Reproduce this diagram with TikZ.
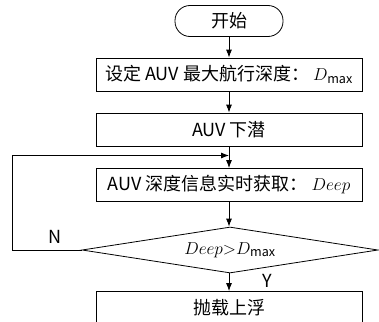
\documentclass[tikz,border=0pt]{standalone}
\usepackage{fontspec}
\setmainfont{Noto Sans CJK SC}
\usepackage{amsmath}
\usetikzlibrary{shapes.geometric,arrows.meta}

\begin{document}
\begin{tikzpicture}[x=1pt,y=-1pt,font=\fontsize{18}{21}\selectfont,line width=0.8pt]
      \tikzstyle{term node}=[draw,rounded corners=15pt,minimum width=108pt,minimum height=31pt,inner sep=1pt]
      \tikzstyle{box node}=[draw,minimum width=266pt,minimum height=33pt,inner sep=1pt]
      \tikzstyle{test node}=[draw,diamond,shape aspect=6.4,minimum width=296pt,minimum height=46pt,inner sep=0pt]
      \tikzstyle{flow}=[-{Latex[length=8pt,width=6pt]}]
      \useasboundingbox (0,0) rectangle (379,321);
      % main column
      \node(start)[term node] at (229,21) {开始};
      \node(setdepth)[box node] at (229,74.5) {设定 AUV 最大航行深度：\ $D_{\mathrm{max}}$};
      \node(dive)[box node] at (229,129.5) {AUV 下潜};
      \node(getdepth)[box node] at (229,185) {AUV 深度信息实时获取：\ $Deep$};
      \node(check)[test node] at (230,250) {$Deep{>}D_{\mathrm{max}}$};
      \node(release)[box node] at (229,308) {抛载上浮};
      \coordinate(merge) at (229,155.5);
      \coordinate(back) at (12,250);
      \draw[flow] (start) -- (setdepth);
      \draw[flow] (setdepth) -- (dive);
      \draw[flow] (dive) -- (getdepth);
      \draw[flow] (getdepth) -- (check.north -| getdepth.south);
      \draw[flow] (check.south -| release.north) -- (release);
      % loop back on N
      \draw[flow] (check.west) -- (back) |- (merge);
      \node(no) at (55,237) {N};
      \node(yes) at (267,281) {Y};
\end{tikzpicture}
\end{document}
